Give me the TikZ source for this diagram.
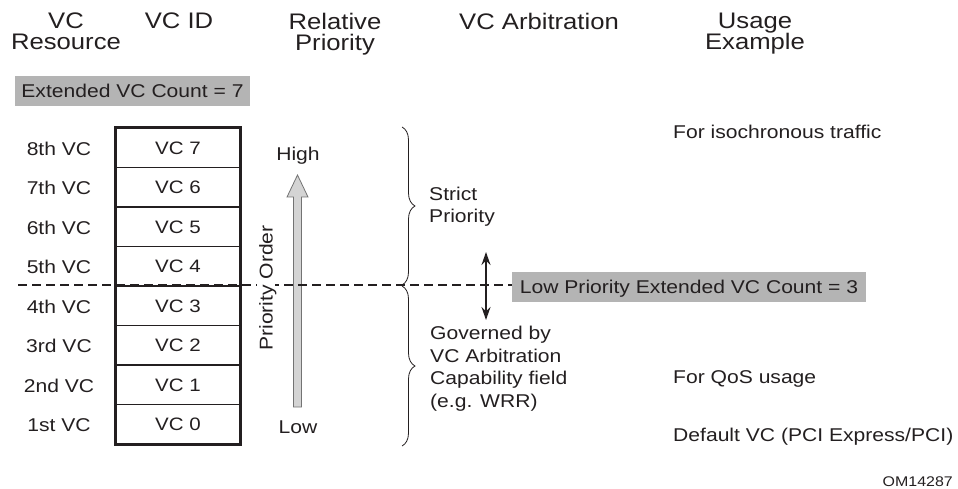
\documentclass[tikz,border=0pt]{standalone}
\usepackage{fontspec}
\setmainfont{Liberation Sans}[FakeStretch=1.14]
\usetikzlibrary{arrows.meta, positioning, decorations.pathreplacing}
\definecolor{ink}{HTML}{231F20}
\definecolor{boxgrey}{HTML}{B4B4B4}
\definecolor{arrowgrey}{HTML}{D4D4D4}

\begin{document}
\begin{tikzpicture}[
    x=1pt, y=-1pt,
    every node/.style={text=ink},
    hdr/.style={align=center, inner sep=0pt, anchor=north, font=\fontsize{22.5}{21}\selectfont},
    txt/.style={inner sep=0pt, text height=13.2pt, text depth=0pt, font=\fontsize{18.5}{22}\selectfont},
    para/.style={align=left, inner sep=0pt, anchor=north west, font=\fontsize{18.5}{22.5}\selectfont},
    cell/.style={draw=ink, line width=1.2pt, minimum width=124pt, minimum height=39.5pt, inner sep=0pt, text height=12.9pt, text depth=0pt, font=\fontsize{18}{22}\selectfont},
    greybox/.style={fill=boxgrey, inner sep=0pt, minimum height=30pt, text height=13.2pt, text depth=0pt, font=\fontsize{18.5}{22}\selectfont},
    curly/.style={decorate, decoration={brace, amplitude=13pt}, draw=ink, line width=0.8pt},
    dline/.style={ink, line width=1.5pt, dash pattern=on 9pt off 5pt},
    darrow/.style={ink, line width=1.8pt, {Stealth[length=13pt,width=9pt]}-{Stealth[length=13pt,width=9pt]}}
]
    \useasboundingbox (0,0) rectangle (958,489);

    % Headers
    \node[hdr] (hres) at (66,13) {VC\\Resource};
    \node[hdr] (hid) at (179,13) {VC ID};
    \node[hdr] (hprio) at (335,13) {Relative\\Priority};
    \node[hdr] (harb) at (539,13) {VC Arbitration};
    \node[hdr] (huse) at (755,13) {Usage\\Example};

    % Extended VC count
    \node[greybox, minimum width=235pt] (extbox) at (132.5,91) {Extended VC Count = 7};

    % Table of VCs
    \foreach \i/\res [count=\r from 0] in {7/8th,6/7th,5/6th,4/5th,3/4th,2/3rd,1/2nd,0/1st} {
        \node[cell] (vc\i) at (178,{147.75+39.5*\r}) {VC \i};
        \node[txt] (res\i) at (59,{148.75+39.5*\r}) {\res\ VC};
    }
    \draw[ink, line width=2pt] (vc7.north west) rectangle (vc0.south east);

    % Priority arrow
    \node[txt] (high) at (298,154) {High};
    \node[txt] (low) at (298,426.5) {Low};
    \draw[draw=black!55, fill=arrowgrey, line width=0.8pt]
        (293.5,407) -- (293.5,197) -- (287,197) -- (297.5,175) -- (308,197)
        -- (301.5,197) -- (301.5,407) -- cycle;

    % Low priority boundary
    \node[greybox, minimum width=354pt] (lowbox) at (689,287) {Low Priority Extended VC Count = 3};
    \coordinate (dashstart) at (18,285);
    \draw[dline] (dashstart) -- (dashstart -| lowbox.west);
    \node[txt, rotate=90, fill=white, inner sep=2pt] (porder) at (266,288) {Priority Order};

    \coordinate (upend) at (486,252);
    \coordinate (downend) at (486,320);
    \draw[darrow] (upend) -- (downend);

    % Arbitration braces
    \draw[curly] (402,127) -- (402,285);
    \draw[curly] (402,286) -- (402,446);
    \node[para] (strict) at (429,186.5) {Strict\\Priority};
    \node[para] (governed) at (430,326) {Governed by\\VC Arbitration\\Capability field\\(e.g. WRR)};

    % Usage examples
    \node[txt, anchor=west] (iso) at (673,132) {For isochronous traffic};
    \node[txt, anchor=west] (qos) at (673,377) {For QoS usage};
    \node[txt, anchor=west] (dflt) at (673,435) {Default VC (PCI Express/PCI)};

    \node[txt, anchor=east, font=\fontsize{14}{16}\selectfont, text height=10pt] (fig) at (953,481) {OM14287};

\end{tikzpicture}
\end{document}
